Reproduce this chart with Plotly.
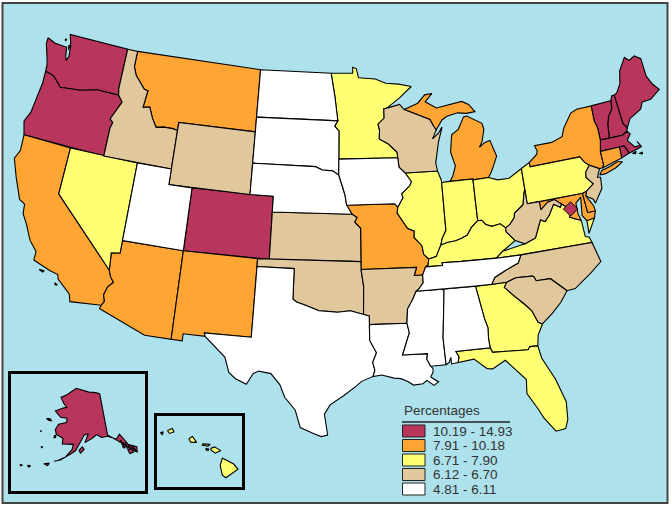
import math
import plotly.graph_objects as go

# Colour classes
classes = ["10.19 - 14.93", "7.91 - 10.18", "6.71 - 7.90", "6.12 - 6.70", "4.81 - 6.11"]
colors = ["#B8365C", "#FFA533", "#FFFF73", "#E0C79C", "#FFFFFF"]

crimson = ["WA", "OR", "CO", "ME", "NH", "VT", "MA", "RI", "DC", "AK"]
orange = ["MT", "CA", "AZ", "NM", "MO", "MI", "NY", "CT", "MD", "DE"]
yellow = ["NV", "MN", "IL", "IN", "OH", "KY", "PA", "VA", "GA", "FL", "HI"]
tan = ["ID", "WY", "WI", "KS", "OK", "AR", "WV", "NC", "SC", "NJ"]
white = ["ND", "SD", "NE", "UT", "IA", "TX", "LA", "MS", "AL", "TN"]
groups = [crimson, orange, yellow, tan, white]

# Shared borders, lon/lat
columbia = [(-124.0, 46.27), (-123.2, 46.15), (-122.8, 45.9), (-122.3, 45.55), (-121.2, 45.65), (-120.5, 45.7),
            (-119.3, 45.93), (-118.98, 46.0), (-116.92, 45.99)]
snake = [(-116.92, 45.99), (-116.47, 45.6), (-117.2, 44.4), (-116.9, 44.2), (-117.03, 43.8), (-117.03, 42.0)]
id_mt = [(-116.05, 49), (-116.05, 48), (-115.7, 47.45), (-114.7, 46.7), (-114.35, 46.65), (-114.5, 45.55),
         (-113.9, 45.65), (-113.45, 44.95), (-113, 44.45), (-112.3, 44.55), (-111.5, 44.55), (-111.05, 44.48)]
colorado_r = [(-114.63, 35.0), (-114.43, 34.6), (-114.13, 34.3), (-114.5, 33.95), (-114.7, 33.4), (-114.53, 33.0),
              (-114.72, 32.72)]
red_r = [(-100, 34.56), (-99.7, 34.4), (-98.95, 34.2), (-97.95, 33.88), (-97.2, 33.85), (-96.5, 33.8),
         (-95.5, 33.9), (-94.48, 33.64)]
missouri_r = [(-96.45, 42.49), (-96.1, 41.7), (-95.9, 41.2), (-95.77, 40.58), (-95.31, 40)]
ks_mo = [(-95.31, 40), (-94.9, 39.8), (-95.1, 39.5), (-94.61, 39.11), (-94.62, 37)]
mn_wi = [(-92.0, 46.7), (-92.29, 46.66), (-92.29, 46.07), (-92.87, 45.7), (-92.75, 45.3), (-92.8, 44.75),
         (-92.0, 44.4), (-91.25, 43.85), (-91.22, 43.5)]
ia_wi = [(-91.22, 43.5), (-91.15, 42.9), (-90.64, 42.51)]
ia_il = [(-90.64, 42.51), (-90.15, 41.95), (-90.3, 41.7), (-91.05, 41.2), (-90.95, 40.95), (-91.42, 40.38)]
mo_il = [(-91.42, 40.38), (-91.5, 40.0), (-90.7, 39.0), (-90.15, 38.8), (-90.2, 38.4), (-89.6, 37.85),
         (-89.5, 37.3), (-89.13, 36.98)]
ar_ms = [(-90.3, 35.0), (-90.6, 34.5), (-91.05, 33.9), (-91.15, 33.0)]
la_ms = [(-91.15, 33.0), (-91.0, 32.4), (-91.6, 31.0), (-89.73, 31.0), (-89.8, 30.65), (-89.55, 30.18)]
tn_ar = [(-89.42, 36.5), (-89.7, 36.0), (-89.7, 35.5), (-90.1, 35.1), (-90.3, 35.0)]
il_ky = [(-89.13, 36.98), (-88.5, 37.1), (-88.05, 37.8)]
in_ky = [(-88.05, 37.8), (-87.5, 37.93), (-86.8, 37.98), (-86.3, 38.1), (-85.8, 38.27), (-85.4, 38.72), (-84.82, 39.1)]
oh_ky = [(-84.82, 39.1), (-84.5, 39.1), (-84.2, 38.8), (-83.7, 38.63), (-83.0, 38.72), (-82.6, 38.42)]
oh_wv = [(-82.6, 38.42), (-82.2, 38.6), (-81.75, 39.0), (-81.7, 39.25), (-80.87, 39.7), (-80.65, 40.4), (-80.52, 40.64)]
il_in = [(-88.05, 37.8), (-87.9, 38.2), (-87.53, 38.7), (-87.53, 39.35), (-87.53, 41.71)]
ky_wv = [(-82.6, 38.42), (-82.6, 38.17), (-81.97, 37.54)]
ky_va = [(-81.97, 37.54), (-83.1, 36.98), (-83.68, 36.6)]
tn_north = [(-88.05, 36.5), (-88.07, 36.68), (-86.5, 36.65), (-83.68, 36.6)]
tn_nc = [(-81.68, 36.59), (-82.0, 36.1), (-83.1, 35.75), (-84.0, 35.4), (-84.32, 34.99)]
va_wv = [(-81.97, 37.54), (-81.22, 37.24), (-80.3, 37.5), (-79.65, 38.58), (-79.3, 38.42), (-78.87, 38.76),
         (-78.35, 39.4), (-77.83, 39.13), (-77.7, 39.32)]
md_wv = [(-77.7, 39.32), (-78.2, 39.68), (-78.8, 39.6), (-79.48, 39.2), (-79.48, 39.72)]
potomac = [(-76.35, 38.05), (-76.9, 38.25), (-77.25, 38.4), (-77.04, 38.79), (-77.12, 38.93), (-77.7, 39.32)]
nc_sc = [(-83.11, 35.0), (-82.35, 35.2), (-81.04, 35.15), (-80.93, 35.1), (-80.8, 34.82), (-79.67, 34.8), (-78.55, 33.86)]
ga_sc = [(-83.11, 35.0), (-83.35, 34.7), (-82.6, 34.0), (-82.0, 33.5), (-81.5, 33.0), (-81.15, 32.2), (-80.85, 32.05)]
ga_fl = [(-81.45, 30.72), (-82.05, 30.75), (-82.2, 30.57), (-84.86, 30.7), (-85.0, 31.0)]
al_ga = [(-85.6, 35), (-85.18, 32.87), (-85.0, 32.3), (-85.05, 31.55), (-85.0, 31.0)]
wi_mi = [(-90.4, 46.55), (-89.1, 46.13), (-88.1, 45.8), (-87.8, 45.35), (-87.6, 45.1)]
ny_pa_east = [(-75.35, 42.0), (-75.05, 41.6), (-74.7, 41.36)]
nj_pa = [(-74.7, 41.36), (-75.13, 40.98), (-75.2, 40.65), (-74.72, 40.15), (-75.4, 39.8)]
vt_nh = [(-71.5, 45.01), (-71.6, 44.5), (-72.05, 44.1), (-72.3, 43.6), (-72.46, 42.73)]
ny_vt = [(-73.35, 45), (-73.4, 44.0), (-73.25, 43.55), (-73.27, 42.75)]
ma_ri = [(-71.8, 42.02), (-71.38, 42.02), (-71.2, 41.67), (-71.12, 41.5)]
tx_la = [(-94.04, 33.0), (-94.04, 32.0), (-93.55, 31.2), (-93.85, 30.6), (-93.7, 30.1), (-93.85, 29.7)]

# State outlines, lon/lat
outlines = {
    "WA": [[(-124.7, 48.38), (-123.9, 48.17), (-123.1, 48.15), (-122.75, 48.15), (-122.6, 47.6), (-122.45, 47.3),
            (-122.3, 47.6), (-122.4, 48.3), (-122.76, 49), (-117.03, 49), (-117.04, 46.42)] + columbia[::-1]
           + [(-124.05, 46.7), (-124.15, 46.95), (-124.4, 47.5), (-124.7, 48.0)],
           [(-122.6, 48.3), (-122.45, 48.3), (-122.5, 48.0)],
           [(-123.1, 48.6), (-122.95, 48.65), (-123, 48.5)]],
    "OR": [columbia + snake + [(-124.2, 42.0), (-124.55, 42.84), (-124.2, 43.5), (-124.1, 44.6), (-123.95, 45.5)]],
    "CA": [[(-124.2, 42.0), (-124.1, 41.0), (-124.4, 40.4), (-123.8, 39.3), (-123.0, 38.0), (-122.5, 37.8),
            (-122.4, 37.2), (-121.9, 36.6), (-121.3, 35.7), (-120.6, 35.1), (-120.6, 34.55), (-119.2, 34.15),
            (-118.5, 34.03), (-118.4, 33.75), (-117.3, 33.0), (-117.12, 32.53)] + colorado_r[::-1]
           + [(-120, 39), (-120, 42)],
           [(-120, 34.05), (-119.6, 34.05), (-119.7, 33.95)],
           [(-118.6, 33.48), (-118.35, 33.38), (-118.5, 33.35)]],
    "NV": [[(-120, 42), (-120, 39), (-114.63, 35.0), (-114.75, 36.1), (-114.05, 36.2), (-114.05, 42)]],
    "AZ": [[(-114.05, 37), (-109.05, 37), (-109.05, 31.33), (-111.07, 31.33), (-114.81, 32.49)] + colorado_r[::-1]
           + [(-114.75, 36.1), (-114.05, 36.2)]],
    "UT": [[(-114.05, 42), (-111.05, 42), (-111.05, 41), (-109.05, 41), (-109.05, 37), (-114.05, 37)]],
    "CO": [[(-109.05, 41), (-102.05, 41), (-102.05, 37), (-109.05, 37)]],
    "WY": [[(-111.05, 45), (-104.05, 45), (-104.05, 41), (-111.05, 41)]],
    "NM": [[(-109.05, 37), (-103, 37), (-103.04, 32), (-106.62, 32), (-106.53, 31.78), (-108.21, 31.78),
            (-108.21, 31.33), (-109.05, 31.33)]],
    "ID": [[(-117.03, 49)] + id_mt + [(-111.05, 42)] + snake[::-1] + [(-117.04, 46.42)]],
    "MT": [id_mt + [(-111.05, 45), (-104.05, 45), (-104.05, 49)]],
    "ND": [[(-104.05, 49), (-97.23, 49), (-96.85, 47.5), (-96.56, 45.94), (-104.05, 45.94)]],
    "SD": [[(-104.05, 45.94), (-96.56, 45.94), (-96.85, 45.6), (-96.45, 45.3), (-96.45, 43.5), (-96.45, 42.49),
            (-97, 42.75), (-97.9, 42.8), (-98.5, 43), (-104.05, 43)]],
    "NE": [[(-104.05, 43), (-98.5, 43), (-97.9, 42.8), (-97, 42.75)] + missouri_r
           + [(-102.05, 40), (-102.05, 41), (-104.05, 41)]],
    "KS": [[(-102.05, 40)] + ks_mo + [(-102.05, 37)]],
    "OK": [[(-103, 37), (-94.62, 37), (-94.62, 36.5), (-94.43, 35.4)] + red_r[::-1]
           + [(-100, 36.5), (-103, 36.5)]],
    "TX": [[(-103, 36.5), (-100, 36.5)] + red_r + [(-94.04, 33.55)] + tx_la
           + [(-94.7, 29.4), (-95.1, 29.1), (-96, 28.5), (-97, 27.9), (-97.4, 27.3), (-97.2, 26), (-97.15, 25.96),
              (-97.6, 25.85), (-98.2, 26.05), (-99.1, 26.4), (-99.5, 27.5), (-100.3, 28.3), (-100.7, 29.1),
              (-101.4, 29.77), (-102.3, 29.88), (-102.7, 29.7), (-103.15, 28.98), (-104, 29.3), (-104.5, 29.65),
              (-104.9, 30.6), (-106, 31.4), (-106.53, 31.78), (-106.62, 32), (-103.04, 32)]],
    "MN": [[(-97.23, 49), (-95.15, 49), (-95.15, 49.38), (-94.8, 49.3), (-94.6, 48.7), (-93, 48.6), (-92, 48.3),
            (-90.8, 48.2), (-89.6, 48), (-90.8, 47.3)] + mn_wi
           + [(-96.45, 43.5), (-96.45, 45.3), (-96.85, 45.6), (-96.56, 45.94), (-96.85, 47.5)]],
    "IA": [[(-96.45, 43.5)] + ia_wi + ia_il[1:] + [(-91.7, 40.6), (-95.77, 40.58), (-95.9, 41.2), (-96.1, 41.7),
                                                   (-96.45, 42.49)]],
    "MO": [[(-95.77, 40.58), (-91.7, 40.6)] + mo_il + [(-89.2, 36.6)] + tn_ar[:2]
           + [(-90.37, 36), (-90.15, 36.5), (-94.62, 36.5)] + ks_mo[::-1]],
    "AR": [[(-94.62, 36.5), (-90.15, 36.5), (-90.37, 36)] + tn_ar[1:] + ar_ms[1:]
           + [(-94.04, 33), (-94.04, 33.55), (-94.48, 33.64), (-94.43, 35.4)]],
    "LA": [tx_la[:-1] + [(-93.85, 29.7), (-93.2, 29.78), (-92.3, 29.55), (-91.8, 29.5), (-91.3, 29.3), (-90.9, 29.05),
                         (-90.2, 29.1), (-89.9, 29.3), (-89.4, 28.95), (-89.05, 29.15), (-89.6, 29.5), (-89.4, 29.8),
                         (-89.4, 30.05)] + la_ms[::-1]],
    "MS": [ar_ms + la_ms[1:] + [(-88.4, 30.2), (-88.47, 31.9), (-88.1, 34.9), (-88.2, 35)]],
    "AL": [[(-88.2, 35)] + al_ga + [(-87.6, 31), (-87.4, 30.65), (-87.5, 30.28), (-88, 30.23), (-88, 30.65),
                                    (-88.15, 30.35), (-88.4, 30.2), (-88.47, 31.9), (-88.1, 34.9)]],
    "TN": [tn_ar[::-1] + tn_north + tn_nc + [(-85.6, 35), (-88.2, 35)]],
    "KY": [il_ky + in_ky[1:] + oh_ky[1:] + ky_wv[1:] + ky_va[1:] + tn_north[::-1][1:] + [(-89.42, 36.5), (-89.2, 36.6)]],
    "IL": [[(-87.53, 41.71), (-87.55, 41.9), (-87.8, 42.49)] + ia_il + mo_il[1:] + il_ky[1:] + il_in[1:]],
    "IN": [il_in + [(-87.2, 41.76), (-84.81, 41.76), (-84.81, 41.7)] + in_ky[::-1][:-1]],
    "OH": [[(-84.81, 41.7), (-83.45, 41.73), (-82.7, 41.5), (-81.7, 41.5), (-80.52, 41.98)] + oh_wv[::-1]
           + oh_ky[::-1][1:]],
    "MI": [[(-84.81, 41.76), (-86.8, 41.76), (-86.5, 42.1), (-86.2, 42.7), (-86.5, 43.6), (-86.25, 44.7), (-85.6, 45),
            (-85, 45.75), (-84.7, 45.78), (-83.4, 45.2), (-83.3, 44.8), (-83.6, 44.05), (-83.9, 43.7), (-83.4, 43.95),
            (-82.9, 44.05), (-82.5, 43), (-82.9, 42.4), (-83.15, 42.05), (-83.45, 41.73), (-84.81, 41.7)],
           wi_mi + [(-87, 45.7), (-86.5, 45.9), (-85.5, 46.05), (-84.7, 45.95), (-83.9, 46), (-84.1, 46.2), (-84.4, 46.5),
                    (-85, 46.75), (-86, 46.65), (-87.4, 46.5), (-88.4, 46.95), (-87.7, 47.45), (-88.4, 47.4),
                    (-89.1, 46.9)]],
    "WI": [[(-92, 46.7), (-90.8, 46.9)] + wi_mi + [(-88, 44.55), (-87.4, 44.9), (-87.05, 45.25), (-87.5, 44.3), (-87.9, 43),
                                                   (-87.8, 42.49)] + ia_wi[::-1] + mn_wi[::-1][1:]],
    "PA": [[(-80.52, 41.98), (-79.76, 42.27), (-79.76, 42)] + ny_pa_east + nj_pa
           + [(-75.79, 39.72), (-79.48, 39.72), (-80.52, 39.72), (-80.52, 40.64)]],
    "NY": [[(-79.76, 42.27), (-79, 42.7), (-78.9, 42.9), (-79.05, 43.27), (-77.5, 43.27), (-76.5, 43.5), (-76.2, 44),
            (-75.3, 44.85), (-74.7, 45)] + ny_vt + [(-73.5, 42.05), (-73.49, 41.2), (-73.65, 41), (-73.92, 41),
                                                    (-74.7, 41.36)] + ny_pa_east[::-1][1:] + [(-79.76, 42)],
           [(-74.03, 40.6), (-73.75, 40.85), (-73, 40.97), (-72.3, 41.15), (-71.87, 41.07), (-72.5, 40.82), (-73.5, 40.6)]],
    "VT": [ny_vt + vt_nh[::-1]],
    "NH": [vt_nh + [(-71.3, 42.7), (-70.82, 42.87), (-70.7, 43.07), (-70.98, 43.4), (-71.08, 45.3), (-71.3, 45.3)]],
    "ME": [[(-71.08, 45.3), (-70.8, 45.4), (-70.3, 45.9), (-70, 46.7), (-69.23, 47.46), (-68.9, 47.18), (-68.3, 47.36),
            (-67.79, 47.07), (-67.78, 45.9), (-67.45, 45.3), (-67, 44.85), (-68, 44.4), (-68.8, 44.4), (-69.1, 44),
            (-69.8, 43.75), (-70.25, 43.6), (-70.7, 43.07), (-70.98, 43.4)]],
    "MA": [[(-73.5, 42.05), (-73.27, 42.75), (-72.46, 42.73), (-71.3, 42.7), (-70.82, 42.87), (-70.6, 42.65), (-71, 42.3),
            (-70.65, 41.95), (-70.5, 41.78), (-70, 41.78), (-70.2, 42.07), (-69.95, 41.68), (-70.65, 41.55)]
           + ma_ri[::-1],
           [(-70.85, 41.42), (-70.5, 41.48), (-70.6, 41.35)],
           [(-70.3, 41.3), (-70, 41.32), (-70.05, 41.22)]],
    "RI": [ma_ri + [(-71.85, 41.32)]],
    "CT": [[(-73.5, 42.05), (-71.8, 42.02), (-71.85, 41.32), (-73.65, 41), (-73.49, 41.2)]],
    "NJ": [nj_pa + [(-75.55, 39.5), (-75, 39.2), (-74.9, 38.93), (-74.1, 39.75), (-74, 40.45), (-74.25, 40.5), (-73.92, 41)]],
    "DE": [[(-75.79, 39.72), (-75.4, 39.8), (-75.55, 39.5), (-75.1, 38.8), (-75.05, 38.45), (-75.7, 38.46)]],
    "MD": [[(-79.48, 39.72), (-75.79, 39.72), (-75.7, 38.46), (-75.05, 38.45), (-75.25, 38.03), (-75.9, 37.95),
            (-76.2, 38.35), (-76.1, 39), (-76, 39.5), (-76.5, 39.2), (-76.5, 38.5)] + potomac + md_wv[1:]],
    "VA": [[(-83.68, 36.6), (-81.68, 36.59), (-75.87, 36.55), (-76, 36.92), (-76.3, 37), (-76.3, 37.6)] + potomac[:-1]
           + va_wv[::-1][:-1] + ky_va[1:-1],
           [(-75.25, 38.03), (-75.9, 37.95), (-75.95, 37.15), (-75.7, 37.5)]],
    "WV": [[(-80.52, 39.72)] + oh_wv[::-1] + ky_wv[1:] + va_wv[1:] + md_wv[1:]],
    "NC": [[(-84.32, 34.99)] + tn_nc[::-1][1:] + [(-75.87, 36.55), (-75.5, 35.25), (-76.5, 34.65), (-77.9, 33.9)]
           + nc_sc[::-1]],
    "SC": [nc_sc + [(-79.2, 33.2), (-80, 32.6)] + ga_sc[::-1]],
    "GA": [[(-85.6, 35), (-84.32, 34.99)] + ga_sc + [(-81.3, 31.4)] + ga_fl + al_ga[::-1][1:]],
    "FL": [[(-87.6, 31)] + ga_fl[::-1] + [(-81.3, 29.9), (-80.55, 28.45), (-80.05, 26.9), (-80.15, 25.75), (-80.4, 25.2),
                                          (-81.1, 25.13), (-81.8, 26.1), (-82.1, 26.7), (-82.75, 27.8), (-82.65, 28.7),
                                          (-83.4, 29.5), (-84, 30.1), (-85, 29.65), (-85.4, 29.7), (-86.3, 30.4),
                                          (-87.5, 30.28), (-87.4, 30.65)]],
    "AK": [[(-141, 69.65), (-143.5, 70.1), (-148, 70.4), (-152, 70.85), (-156.6, 71.35), (-160, 70.5), (-163, 69.6),
            (-166.2, 68.9), (-163.8, 67.6), (-161.8, 66.9), (-164, 66.6), (-168, 65.65), (-164.5, 64.5), (-161, 64.5),
            (-161, 63.5), (-165, 62.9), (-166.2, 61.6), (-165.3, 60.6), (-162, 59.95), (-162, 58.7), (-158.5, 58.8),
            (-157, 58.8), (-157.5, 57.6), (-160, 55.9), (-163, 54.9), (-164.5, 54.6), (-162, 55.1), (-158, 56.6),
            (-156, 57.4), (-153.9, 59.3), (-152, 60.9), (-150, 61.2), (-151.8, 59.2), (-148.5, 60), (-146, 60.8),
            (-144, 60), (-141, 60), (-139.5, 59.6), (-137.5, 58.9), (-135.5, 59.8), (-133, 57), (-130, 55.9),
            (-130.5, 54.8), (-132, 55.5), (-134, 57), (-136, 58), (-141, 60.3)],
           [(-154.5, 57.5), (-153, 58.3), (-152.2, 57.7), (-153.8, 56.9)],
           [(-136.5, 58.2), (-135.6, 58.4), (-135.5, 57.9)],
           [(-135.8, 57.5), (-135, 57.9), (-135, 57.2)],
           [(-135.7, 57), (-135, 57.2), (-135, 56.5)],
           [(-134.6, 57), (-134, 57.7), (-133.9, 56.2)],
           [(-133.5, 56.3), (-132.8, 56.9), (-132.5, 56)],
           [(-133.9, 56), (-132.4, 55.9), (-132, 55), (-133.5, 55)],
           [(-132, 56.2), (-131.3, 56.4), (-131.5, 55.6)],
           [(-131.6, 55.6), (-131, 55.8), (-131, 55)],
           [(-166.2, 60.2), (-165.5, 60.4), (-165.4, 59.9), (-166.1, 59.8)],
           [(-171.7, 63.5), (-170, 63.7), (-168.8, 63.3), (-170.5, 63.3)],
           [(-168.3, 53.6), (-166.2, 54), (-166.7, 53.4)],
           [(-174.2, 52.3), (-173, 52.4), (-173.5, 52)],
           [(-177, 51.9), (-176, 52), (-176.5, 51.7)],
           [(-173, 60.6), (-172.8, 60.4), (-172.5, 60.5)],
           [(-171, 57.2), (-170.2, 57.2), (-170.5, 57)]],
    "HI": [[(-155.9, 20.25), (-155.1, 19.85), (-154.8, 19.5), (-155.65, 18.93), (-155.9, 19.1), (-156.05, 19.75)],
           [(-156.7, 20.9), (-156.45, 21), (-156, 20.75), (-156.4, 20.58), (-156.7, 20.8)],
           [(-158.25, 21.55), (-158, 21.7), (-157.7, 21.3), (-158.1, 21.3)],
           [(-159.75, 22.1), (-159.4, 22.23), (-159.3, 22), (-159.6, 21.9)],
           [(-157.3, 21.2), (-156.75, 21.17), (-156.9, 21.05), (-157.3, 21.1)],
           [(-157.05, 20.9), (-156.85, 20.85), (-156.9, 20.75), (-157.05, 20.8)],
           [(-160.25, 21.95), (-160.05, 22.02), (-160.1, 21.8)]],
}
dc_lon = [-77.03]
dc_lat = [38.9]


def albers(points, lat1, lat2, lon0, lat0):
    n = (math.sin(math.radians(lat1)) + math.sin(math.radians(lat2))) / 2
    c = math.cos(math.radians(lat1)) ** 2 + 2 * n * math.sin(math.radians(lat1))
    rho0 = math.sqrt(c - 2 * n * math.sin(math.radians(lat0))) / n
    xs, ys = [], []
    for lon, lat in points:
        rho = math.sqrt(c - 2 * n * math.sin(math.radians(lat))) / n
        theta = math.radians(n * (lon - lon0))
        xs.append(rho * math.sin(theta))
        ys.append(rho0 - rho * math.cos(theta))
    return xs, ys


def project(state, points):
    if state == "AK":
        return albers(points, 55, 65, -154, 90)
    if state == "HI":
        return [p[0] for p in points], [p[1] for p in points]
    return albers(points, 29.5, 45.5, -96, 37.5)


fig = go.Figure()
W, H = 672, 508
AXES = {"AK": ("x2", "y2"), "HI": ("x3", "y3")}

for group, color in zip(groups, colors):
    for state in group:
        if state == "DC":
            continue
        xa, ya = AXES.get(state, ("x", "y"))
        for poly in outlines[state]:
            xs, ys = project(state, poly + poly[:1])
            fig.add_trace(go.Scatter(x=xs, y=ys, mode="lines", fill="toself", fillcolor=color, name=state,
                                     showlegend=False, xaxis=xa, yaxis=ya,
                                     line=dict(color="black", width=1.1)))

# DC goes last so it sits on top of Maryland
xs, ys = project("DC", list(zip(dc_lon, dc_lat)))
fig.add_trace(go.Scatter(x=xs, y=ys, mode="markers", name="DC", showlegend=False,
                         marker=dict(symbol="diamond", size=11, color=colors[0],
                                     line=dict(color="black", width=1))))

hidden = dict(visible=False, fixedrange=True)
boxed = dict(showgrid=False, zeroline=False, showticklabels=False, ticks="", showline=True, mirror=True,
             linecolor="black", linewidth=2.5, fixedrange=True)


def px_x(p):
    return p / W


def px_y(p):
    return 1 - p / H


# Frame and legend
shapes = [dict(type="rect", xref="paper", yref="paper", x0=px_x(2.5), x1=px_x(667.5), y0=px_y(503), y1=px_y(3),
               fillcolor="#ADE1EC", line=dict(color="#444444", width=2), layer="below"),
          dict(type="line", xref="paper", yref="paper", x0=px_x(402), x1=px_x(510), y0=px_y(422), y1=px_y(422),
               line=dict(color="#222222", width=1.5))]
annotations = [dict(text="Percentages", xref="paper", yref="paper", x=px_x(402), y=px_y(410), xanchor="left",
                    yanchor="middle", showarrow=False, font=dict(family="Liberation Sans", size=13.5, color="#333333"))]
for i, (label, color) in enumerate(zip(classes, colors)):
    top = 425 + i * 14.5
    shapes.append(dict(type="rect", xref="paper", yref="paper", x0=px_x(402.5), x1=px_x(425), y0=px_y(top + 12),
                       y1=px_y(top), fillcolor=color, line=dict(color="#222222", width=1)))
    annotations.append(dict(text=label, xref="paper", yref="paper", x=px_x(431), y=px_y(top + 6), xanchor="left",
                            yanchor="middle", showarrow=False,
                            font=dict(family="Liberation Sans", size=13.5, color="#333333")))

fig.update_layout(
    width=W,
    height=H,
    margin=dict(l=0, r=0, t=0, b=0),
    autosize=False,
    paper_bgcolor="white",
    plot_bgcolor="rgba(0,0,0,0)",
    showlegend=False,
    xaxis=dict(domain=[0, 1], range=[-0.3847, 0.3670], **hidden),
    yaxis=dict(domain=[0, 1], range=[-0.2833, 0.2830], **hidden),
    xaxis2=dict(domain=[px_x(11), px_x(145)], range=[-0.2798, 0.2631], anchor="y2", **boxed),
    yaxis2=dict(domain=[px_y(491), px_y(374)], range=[-0.6282, -0.1733], anchor="x2", **boxed),
    xaxis3=dict(domain=[px_x(157), px_x(242)], range=[-160.48, -154.52], anchor="y3", **boxed),
    yaxis3=dict(domain=[px_y(487), px_y(416)], range=[18.31, 23.07], anchor="x3", **boxed),
    shapes=shapes,
    annotations=annotations,
)

fig.write_html("out.html", config={"displayModeBar": False}, post_script="document.body.style.margin='0';")
